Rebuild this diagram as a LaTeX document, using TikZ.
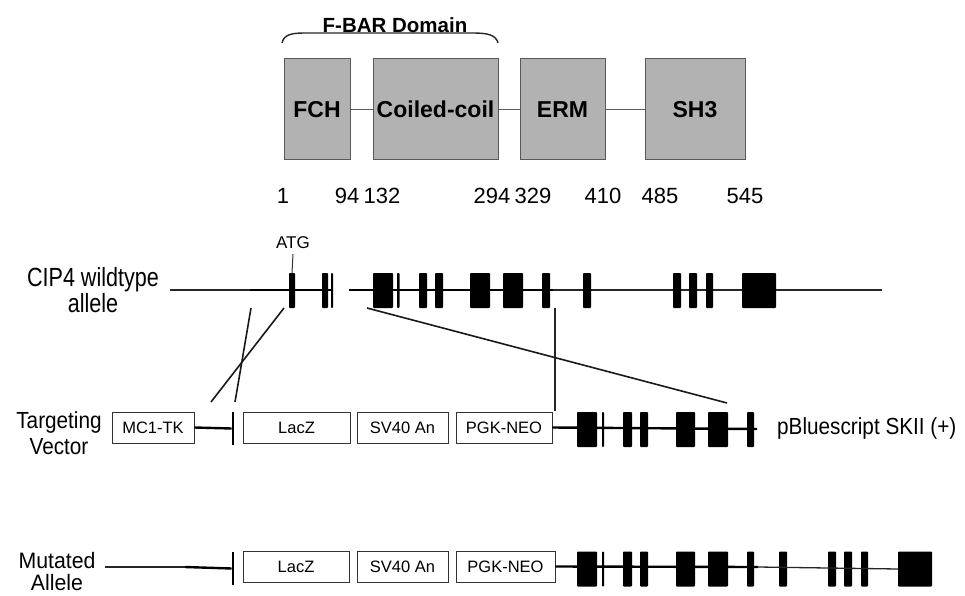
\documentclass[tikz,border=0pt]{standalone}
\usepackage{fontspec}
\setmainfont{Liberation Sans}
\newfontfamily\tallA{Liberation Sans}[FakeStretch=0.82]
\newfontfamily\tallB{Liberation Sans}[FakeStretch=0.89]
\newfontfamily\tallC{Liberation Sans}[FakeStretch=0.955]
\begin{document}
\begin{tikzpicture}[x=1pt,y=-1pt,
  dombox/.style={draw=black!65, fill=black!30, line width=1pt, minimum height=101pt, inner sep=0pt, font=\fontsize{23}{27}\selectfont\bfseries},
  exon/.style={fill=black, inner sep=0pt, minimum height=35pt, rounded corners=0.8pt},
  vbox/.style={draw=black!80, line width=0.9pt, minimum height=31pt, inner sep=0pt, font=\fontsize{16.5}{20}\selectfont},
  lbl/.style={align=center, inner sep=0pt},
  num/.style={font=\fontsize{22}{26}\selectfont, inner sep=0pt},
  thinline/.style={line width=1.3pt, black!85},
  thickline/.style={line width=2.4pt},
  conn/.style={line width=1.6pt, black!90},
  dline/.style={line width=1.5pt, black!65},
  barnode/.style={fill=black, inner sep=0pt, minimum width=2.4pt}
]
\newcommand\ex[4]{\node[exon, minimum width={#3-#2}] (#1) at ({(#2+#3)/2},#4) {};}
\useasboundingbox (0,0) rectangle (965,596);

% ---------- protein domains ----------
\node[dombox, minimum width=66] (fch) at (317,109.5) {FCH};
\node[dombox, minimum width=125] (cc) at (435.5,109.5) {Coiled-coil};
\node[dombox, minimum width=85] (erm) at (562.5,109.5) {ERM};
\node[dombox, minimum width=100] (sh3) at (695,109.5) {SH3};
\draw[dline] (fch.east) -- (cc.west);
\draw[dline] (cc.east) -- (erm.west);
\draw[dline] (erm.east) -- (sh3.west);
\coordinate (brL) at (282,43);
\coordinate (brR) at (498,43);
\draw[line width=1.4pt, black!85] (brL) .. controls (284,33) and (295,33) .. (308,33) -- (473,33) .. controls (488,33) and (496,35) .. (brR);
\node[font=\fontsize{20.5}{24}\selectfont\bfseries, inner sep=0pt] (fbar) at (395,25) {F-BAR Domain};
\foreach \n/\x in {1/283,94/347,132/382,294/492,329/533,410/603,485/660,545/745}
  \node[num] (n\n) at (\x,196) {\n};

% ---------- wildtype allele ----------
\node[lbl, font=\tallA\fontsize{26.3}{23}\selectfont] (wtlbl) at (93,290) {CIP4 wildtype\\allele};
\coordinate (wtL) at (170,290);
\coordinate (wtA) at (250,290);
\coordinate (wtG) at (333,290);
\coordinate (wtB) at (349,290);
\coordinate (wtC) at (553,290);
\coordinate (wtR) at (882,290);
\draw[thinline] (wtL) -- (wtA);
\draw[thickline] (wtA) -- (wtG);
\draw[thickline] (wtB) -- (wtC);
\draw[thinline] (wtC) -- (wtR);
\ex{w1}{289}{295}{290.5}
\ex{w2}{322}{328}{290.5}
\ex{w3}{331}{333}{290.5}
\ex{w4}{373}{393}{290.5}
\ex{w5}{397}{399.5}{290.5}
\ex{w6}{419}{427}{290.5}
\ex{w7}{435}{443}{290.5}
\ex{w8}{470}{490}{290.5}
\ex{w9}{503}{523}{290.5}
\ex{w10}{542}{550}{290.5}
\ex{w11}{583}{591}{290.5}
\ex{w12}{673}{681}{290.5}
\ex{w13}{689}{697}{290.5}
\ex{w14}{706}{713}{290.5}
\ex{w15}{742}{776}{290.5}
\node[font=\fontsize{17}{20}\selectfont, inner sep=0pt] (atg) at (293,243) {ATG};
\draw[line width=1pt, black!80] (atg.south) ++(0,5) -- (w1.north);

% ---------- targeting vector ----------
\node[lbl, font=\tallB\fontsize{23.3}{26}\selectfont] (tvlbl) at (59,432.7) {Targeting\\Vector};
\node[vbox, minimum width=82] (mc1) at (153,427.5) {MC1-TK};
\node[barnode, minimum height=33] (tbar) at (233,428.5) {};
\node[vbox, minimum width=107] (tlac) at (296.5,427.5) {LacZ};
\node[vbox, minimum width=91] (tsv) at (402.5,427.5) {SV40 An};
\node[vbox, minimum width=96] (tpgk) at (504,427.5) {PGK-NEO};
\coordinate (tR) at (757,429);
\draw[thickline] (mc1.east) -- (tbar.west);
\draw[thickline] (tpgk.east) -- (tR);
\ex{t1}{577}{597}{429.5}
\ex{t2}{602}{604}{429.5}
\ex{t3}{623}{632}{429.5}
\ex{t4}{640}{648}{429.5}
\ex{t5}{676}{695}{429.5}
\ex{t6}{708}{728}{429.5}
\ex{t7}{747}{754}{429.5}
\node[font=\tallB\fontsize{23.3}{26}\selectfont, anchor=base west, inner sep=0pt] (pbs) at (777,434.3) {pBluescript SKII (+)};

% ---------- homology connectors ----------
\coordinate (c1a) at (251,308);
\coordinate (c1b) at (235,402);
\coordinate (c2a) at (284,308);
\coordinate (c2b) at (211,402);
\coordinate (s1a) at (367,308);
\coordinate (s1b) at (727,403);
\coordinate (v1a) at (555,308);
\coordinate (v1b) at (555,411);
\draw[conn] (c1a) -- (c1b);
\draw[conn] (c2a) -- (c2b);
\draw[conn] (s1a) -- (s1b);
\draw[line width=1.3pt, black!85] (v1a) -- (v1b);

% ---------- mutated allele ----------
\node[lbl, font=\tallC\fontsize{22.3}{22}\selectfont] (mlbl) at (57,572) {Mutated\\Allele};
\coordinate (mL) at (105,567);
\coordinate (mA) at (185,567);
\coordinate (mN) at (758,567);
\node[barnode, minimum height=33] (mbar) at (233,568.5) {};
\node[vbox, minimum width=106] (mlac) at (296,566.5) {LacZ};
\node[vbox, minimum width=91] (msv) at (402.5,566.5) {SV40 An};
\node[vbox, minimum width=99] (mpgk) at (505.5,566.5) {PGK-NEO};
\draw[thinline] (mL) -- (mA);
\draw[thickline] (mA) -- (mbar.west);
\draw[thickline] (mpgk.east) -- (mN);
\ex{m1}{577}{597}{569}
\ex{m2}{602}{604}{569}
\ex{m3}{623}{632}{569}
\ex{m4}{640}{648}{569}
\ex{m5}{676}{695}{569}
\ex{m6}{708}{728}{569}
\ex{m7}{747}{754}{569}
\ex{m8}{779}{787}{569}
\ex{m9}{828}{836}{569}
\ex{m10}{844}{852}{569}
\ex{m11}{861}{868}{569}
\ex{m12}{898}{932}{569}
\draw[thinline] (mN) -- (m12.west);
\end{tikzpicture}
\end{document}
